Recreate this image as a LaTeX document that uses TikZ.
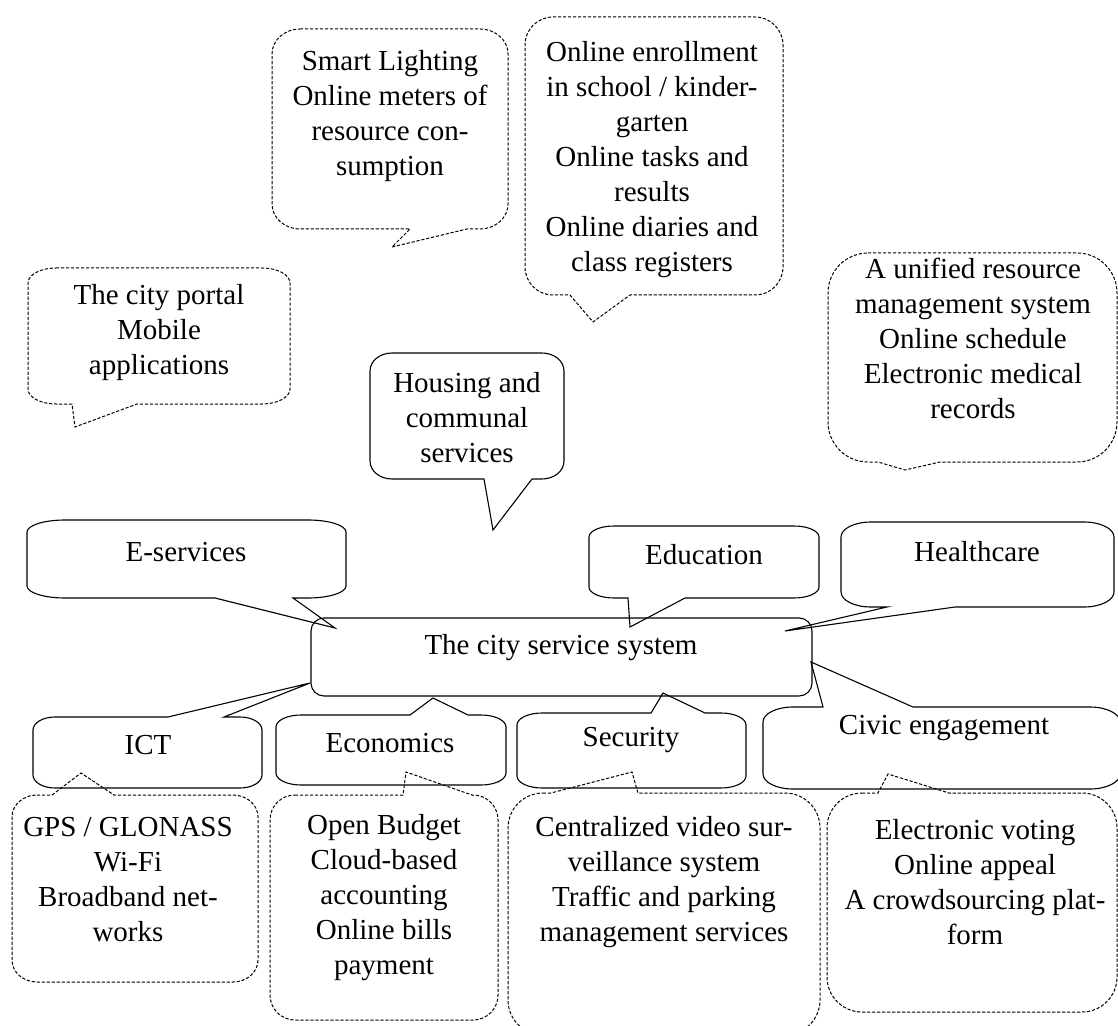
\documentclass[tikz,border=0pt]{standalone}
\usepackage{fontspec}
\setmainfont{Liberation Serif}
\tikzset{
  crx/.store in=\crx, cry/.store in=\cry, crx=20, cry=12,
  solidbox/.style={draw=black, line width=0.55pt},
  dashbox/.style={draw=black, line width=0.5pt, dash pattern=on 1.6pt off 0.9pt},
  lbl/.style={align=center, inner sep=0pt, font=\fontsize{14.5}{17.5}\selectfont},
}
\newcommand\kk{0.4477}
% #1 style, #2 x0, #3 y0, #4 x1, #5 y1, #6 top wedge, #7 right wedge, #8 bottom wedge, #9 left wedge
\newcommand\cbox[9]{%
  \draw[#1] ({#2+\crx},#3) #6 -- ({#4-\crx},#3)
    .. controls ({#4-\kk*\crx},#3) and (#4,{#3+\kk*\cry}) .. (#4,{#3+\cry}) #7
    -- (#4,{#5-\cry}) .. controls (#4,{#5-\kk*\cry}) and ({#4-\kk*\crx},#5) .. ({#4-\crx},#5) #8
    -- ({#2+\crx},#5) .. controls ({#2+\kk*\crx},#5) and (#2,{#5-\kk*\cry}) .. (#2,{#5-\cry}) #9
    -- (#2,{#3+\cry}) .. controls (#2,{#3+\kk*\cry}) and ({#2+\kk*\crx},#3) .. ({#2+\crx},#3) -- cycle;}
\begin{document}
\begin{tikzpicture}[x=0.5pt,y=-0.5pt]
\useasboundingbox (0,0) rectangle (1118,1026);
\clip (0,0) rectangle (1118,1026);
% tips
\coordinate (tipH) at (493,530);
\coordinate (tipE) at (335,628);
\coordinate (tipEd) at (630,627);
\coordinate (tipHc) at (785,631);
\coordinate (tipI) at (310,683);
\coordinate (tipEc) at (433,698);
\coordinate (tipS) at (663,693);
\coordinate (tipC) at (811,662);
\coordinate (tipP) at (75,427);
\coordinate (tipSL) at (392,247);
\coordinate (tipED) at (593,322);
\coordinate (tipHD) at (905,470);
\coordinate (tipG) at (81,773);
\coordinate (tipEcD) at (406,772);
\coordinate (tipSD) at (632,772);
\coordinate (tipCD) at (888,774);

% central box
\draw[solidbox, rounded corners=6.5pt] (311,618) rectangle (812,696);
\node[lbl] (city) at (561,648) {The city service system};

% solid callouts
\cbox{solidbox,crx=22,cry=18}{370}{353}{564}{479}{}{}{-- (532,479) -- (tipH) -- (484,479)}{}
\node[lbl] (housing) at (467,418) {Housing and\\communal\\services};

\cbox{solidbox,crx=38,cry=12}{27}{520}{346}{598}{}{}{-- (293,598) -- (tipE) -- (215,598)}{}
\node[lbl] (eserv) at (186,552) {E-services};

\cbox{solidbox,crx=25,cry=11}{589}{526}{819}{598}{}{}{-- (685,598) -- (tipEd) -- (628,598)}{}
\node[lbl] (educ) at (704,555) {Education};

\cbox{solidbox,crx=30,cry=15}{841}{522}{1114}{607}{}{}{-- (955,607) -- (tipHc) -- (887,607)}{}
\node[lbl] (health) at (977,552) {Healthcare};

\cbox{solidbox,crx=22,cry=13}{33}{717}{262}{788}{-- (168,717) -- (tipI) -- (224,717)}{}{}{}
\node[lbl] (ict) at (148,745) {ICT};

\cbox{solidbox,crx=25,cry=12}{276}{715}{506}{785}{-- (410,715) -- (tipEc) -- (468,715)}{}{}{}
\node[lbl] (econ) at (390,743) {Economics};

\cbox{solidbox,crx=25,cry=12}{517}{713}{746}{788}{-- (651,713) -- (tipS) -- (705,713)}{}{}{}
\node[lbl] (secur) at (631,740) {Security};

\cbox{solidbox,crx=30,cry=15}{763}{707}{1120}{789}{-- (823,707) -- (tipC) -- (913,707)}{}{}{}
\node[lbl] (civic) at (944,728) {Civic engagement};

% dashed callouts
\cbox{dashbox,crx=28,cry=15}{28}{268}{290}{404}{}{}{-- (137,404) -- (tipP) -- (72,404)}{}
\node[lbl] (portal) at (159,333) {The city portal\\Mobile\\applications};

\cbox{dashbox,crx=28,cry=25}{272}{29}{508}{229}{}{}{-- (467,229) -- (tipSL) -- (410,229)}{}
\node[lbl] (smart) at (390,116) {Smart Lighting\\Online meters of\\resource con-\\sumption};

\cbox{dashbox,crx=28,cry=28}{525}{17}{783}{295}{}{}{-- (630,295) -- (tipED) -- (570,295)}{}
\node[lbl] (edud) at (652,160) {Online enrollment\\in school / kinder-\\garten\\Online tasks and\\results\\Online diaries and\\class registers};

\cbox{dashbox,crx=40,cry=40}{828}{253}{1117}{462}{}{}{-- (940,462) -- (tipHD) -- (878,462)}{}
\node[lbl] (healthd) at (973,338) {A unified resource\\management system\\Online schedule\\Electronic medical\\records};

\cbox{dashbox,crx=25,cry=22}{12}{795}{258}{982}{-- (52,795) -- (tipG) -- (114,795)}{}{}{}
\node[lbl] (gps) at (128,880) {GPS / GLONASS\\Wi-Fi\\Broadband net-\\works};

\cbox{dashbox,crx=25,cry=25}{270}{795}{498}{1020}{-- (403,795) -- (tipEcD) -- (472,795)}{}{}{}
\node[lbl] (econd) at (384,898) {Open Budget\\Cloud-based\\accounting\\Online bills\\payment};

\cbox{dashbox,crx=35,cry=35}{508}{793}{820}{1035}{-- (551,793) -- (tipSD) -- (638,793)}{}{}{}
\node[lbl] (securd) at (664,882) {Centralized video sur-\\veillance system\\Traffic and parking\\management services};

\cbox{dashbox,crx=35,cry=35}{827}{793}{1117}{1012}{-- (878,793) -- (tipCD) -- (949,793)}{}{}{}
\node[lbl] (civicd) at (975,882) {Electronic voting\\Online appeal\\A crowdsourcing plat-\\form};
\end{tikzpicture}
\end{document}
